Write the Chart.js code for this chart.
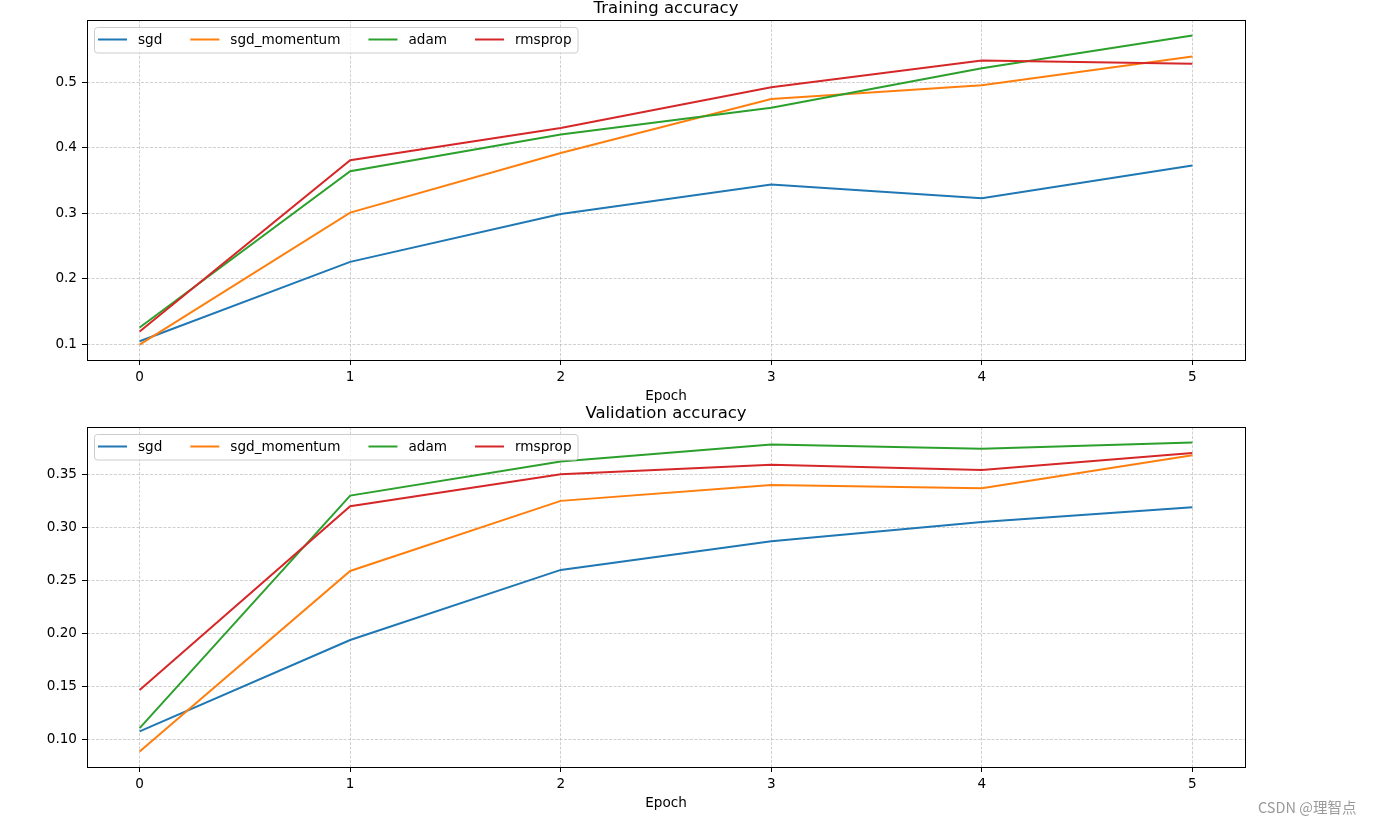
<!DOCTYPE html>
<html>
<head>
<meta charset="utf-8">
<title>Training / Validation accuracy</title>
<script src="https://cdn.jsdelivr.net/npm/chart.js@4.4.1/dist/chart.umd.min.js"></script>
<style>
  html, body { margin: 0; padding: 0; background: #fff; }
  #wrap { position: relative; width: 1373px; height: 824px; overflow: hidden; }
  #trainBox { position: absolute; left: 0; top: 0; width: 1373px; height: 405px; }
  #valBox { position: absolute; left: 0; top: 405px; width: 1373px; height: 419px; }
  #mark { position: absolute; left: 1258px; top: 798px; font: 14.5px "Noto Sans CJK SC", sans-serif; line-height: 18px; color: #9a9a9a; }
</style>
</head>
<body>
<div id="wrap">
  <div id="trainBox"><canvas id="trainChart"></canvas></div>
  <div id="valBox"><canvas id="valChart"></canvas></div>
  <div id="mark">CSDN @理智点</div>
</div>
<script>
// epochs and optimizer names
var epochs = [0, 1, 2, 3, 4, 5];
var optimizers = ['sgd', 'sgd_momentum', 'adam', 'rmsprop'];
var colors = ['#1f77b4', '#ff7f0e', '#2ca02c', '#d62728'];

// training accuracy per epoch
var trainSgd = [0.105, 0.226, 0.299, 0.344, 0.323, 0.373];
var trainSgdMomentum = [0.100, 0.301, 0.392, 0.474, 0.495, 0.539];
var trainAdam = [0.126, 0.364, 0.420, 0.461, 0.521, 0.571];
var trainRmsprop = [0.120, 0.381, 0.430, 0.492, 0.533, 0.528];

// validation accuracy per epoch
var valSgd = [0.108, 0.194, 0.260, 0.287, 0.305, 0.319];
var valSgdMomentum = [0.089, 0.259, 0.325, 0.340, 0.337, 0.368];
var valAdam = [0.111, 0.330, 0.362, 0.378, 0.374, 0.380];
var valRmsprop = [0.147, 0.320, 0.350, 0.359, 0.354, 0.370];

// tick values
var xTicks = [0, 1, 2, 3, 4, 5];
var trainTicks = [0.1, 0.2, 0.3, 0.4, 0.5];
var valTicks = [0.10, 0.15, 0.20, 0.25, 0.30, 0.35];

var FONT = 'DejaVu Sans';
var GRID = '#a8a8a8';

// black box around the plot area (matplotlib spines)
var axesFrame = {
    id: 'axesFrame',
    afterDatasetsDraw: function (chart) {
        var a = chart.chartArea, ctx = chart.ctx;
        ctx.save();
        ctx.strokeStyle = '#000';
        ctx.lineWidth = 1;
        ctx.strokeRect(Math.round(a.left) + 0.5, Math.round(a.top) + 0.5,
            Math.round(a.right - a.left), Math.round(a.bottom - a.top));
        ctx.restore();
    }
};

function roundedRect(ctx, x, y, w, h, r) {
    ctx.beginPath();
    ctx.moveTo(x + r, y);
    ctx.arcTo(x + w, y, x + w, y + h, r);
    ctx.arcTo(x + w, y + h, x, y + h, r);
    ctx.arcTo(x, y + h, x, y, r);
    ctx.arcTo(x, y, x + w, y, r);
    ctx.closePath();
}

// legend inside the axes, upper left, one row
var innerLegend = {
    id: 'innerLegend',
    afterDraw: function (chart) {
        var a = chart.chartArea, ctx = chart.ctx;
        ctx.save();
        ctx.font = '13.6px "' + FONT + '"';
        var left = a.left + 7.5, top = a.top + 7.5, h = 25.5;
        var x = left + 3.5;
        var items = chart.data.datasets.map(function (ds) {
            var w = ctx.measureText(ds.label).width;
            var it = { x: x, label: ds.label, color: ds.borderColor };
            x += 29 + 11 + w + 28;
            return it;
        });
        var right = x - 28 + 6.5;
        roundedRect(ctx, left, top, right - left, h, 3);
        ctx.fillStyle = 'rgba(255,255,255,0.8)';
        ctx.fill();
        ctx.strokeStyle = '#cccccc';
        ctx.lineWidth = 1;
        ctx.stroke();
        ctx.textBaseline = 'middle';
        ctx.textAlign = 'left';
        items.forEach(function (it) {
            ctx.strokeStyle = it.color;
            ctx.lineWidth = 2;
            ctx.beginPath();
            ctx.moveTo(it.x, top + 12);
            ctx.lineTo(it.x + 29, top + 12);
            ctx.stroke();
            ctx.fillStyle = '#000';
            ctx.fillText(it.label, it.x + 40, top + 13);
        });
        ctx.restore();
    }
};

function makeDatasets(seriesList) {
    return seriesList.map(function (series, i) {
        return {
            label: optimizers[i],
            data: epochs.map(function (e, j) { return { x: e, y: series[j] }; }),
            borderColor: colors[i],
            backgroundColor: colors[i],
            borderWidth: 2,
            pointRadius: 0,
            tension: 0,
            fill: false,
            order: seriesList.length - 1 - i
        };
    });
}

// matplotlib style 5% margins
function padRange(seriesList) {
    var all = [].concat.apply([], seriesList);
    var lo = Math.min.apply(null, all), hi = Math.max.apply(null, all);
    var m = (hi - lo) * 0.05;
    return [lo - m, hi + m];
}

function buildChart(canvasId, title, seriesList, yTicks, decimals, titlePad, xHeight, epochPad) {
    var yr = padRange(seriesList);
    var xr = [epochs[0] - 0.25, epochs[epochs.length - 1] + 0.25];
    var tickFont = { family: FONT, size: 13.6 };
    return new Chart(document.getElementById(canvasId).getContext('2d'), {
        type: 'line',
        data: { datasets: makeDatasets(seriesList) },
        options: {
            responsive: true,
            maintainAspectRatio: false,
            animation: false,
            layout: { padding: { left: 0, right: 128, top: 0, bottom: 0 } },
            plugins: {
                legend: { display: false },
                tooltip: { enabled: false },
                title: {
                    display: true,
                    text: title,
                    fullSize: false,
                    color: '#000',
                    font: { family: FONT, size: 16.5, weight: 'normal', lineHeight: 1 },
                    padding: { top: 0, bottom: titlePad }
                }
            },
            scales: {
                x: {
                    type: 'linear',
                    min: xr[0],
                    max: xr[1],
                    afterBuildTicks: function (axis) {
                        axis.ticks = xTicks.map(function (v) { return { value: v }; });
                    },
                    afterFit: function (axis) { axis.height = xHeight; },
                    ticks: {
                        color: '#000',
                        font: tickFont,
                        padding: 4,
                        maxRotation: 0,
                        callback: function (v) { return String(v); }
                    },
                    grid: { color: GRID, lineWidth: 0.55, tickLength: 5, tickColor: '#000', tickWidth: 1 },
                    border: { display: false, dash: [3, 1.5] },
                    title: {
                        display: true,
                        text: 'Epoch',
                        color: '#000',
                        font: tickFont,
                        padding: { top: 0, bottom: epochPad }
                    }
                },
                y: {
                    type: 'linear',
                    min: yr[0],
                    max: yr[1],
                    afterBuildTicks: function (axis) {
                        axis.ticks = yTicks.map(function (v) { return { value: v }; });
                    },
                    afterFit: function (axis) { axis.width = 87; },
                    ticks: {
                        color: '#000',
                        font: tickFont,
                        padding: 5,
                        callback: function (v) { return Number(v).toFixed(decimals); }
                    },
                    grid: { color: GRID, lineWidth: 0.55, tickLength: 5, tickColor: '#000', tickWidth: 1 },
                    border: { display: false, dash: [3, 1.5] }
                }
            }
        },
        plugins: [axesFrame, innerLegend]
    });
}

document.addEventListener('DOMContentLoaded', function () {
    buildChart('trainChart', 'Training accuracy',
        [trainSgd, trainSgdMomentum, trainAdam, trainRmsprop], trainTicks, 1, 3.5, 45, 0.8);
    buildChart('valChart', 'Validation accuracy',
        [valSgd, valSgdMomentum, valAdam, valRmsprop], valTicks, 2, 5.5, 57, 12.8);
});
</script>
</body>
</html>
